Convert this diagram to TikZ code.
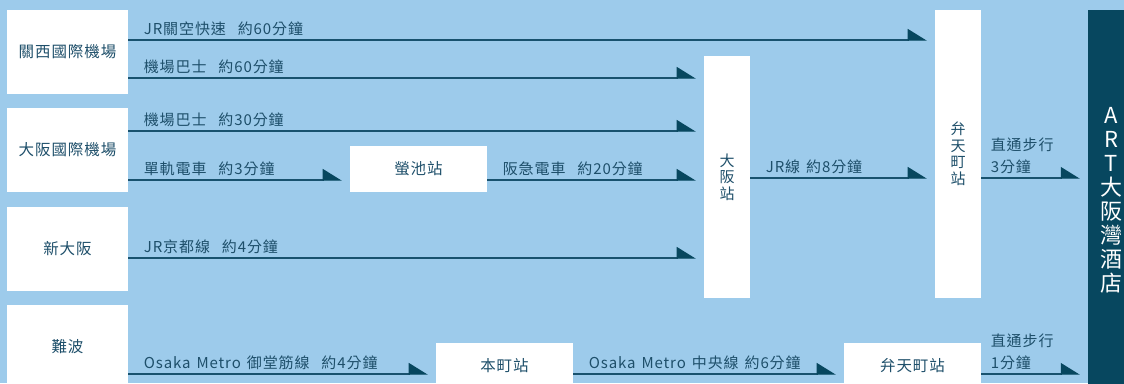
\documentclass[tikz,border=0pt]{standalone}
\usepackage{fontspec}
\setmainfont{Noto Sans CJK TC}[LetterSpace=6,WordSpace=1.4]
\usetikzlibrary{arrows.meta}
\definecolor{cielo}{HTML}{9DCBEB}
\definecolor{marino}{HTML}{07475F}
\definecolor{tinta}{HTML}{1E4F6A}
\definecolor{trazo}{HTML}{18526E}
\tikzstyle{origen}=[fill=white, text=tinta, minimum width=121pt, minimum height=84pt,
  inner sep=0pt, font=\fontsize{15.5}{17}\selectfont]
\tikzstyle{estacion}=[origen, minimum width=137pt, minimum height=46pt]
\tikzstyle{columna}=[origen, minimum width=46pt, align=center,
  font=\fontsize{15}{16.5}\selectfont]
\tikzstyle{hotel}=[fill=marino, text=white, minimum width=46pt, minimum height=380pt,
  align=center, inner sep=0pt, font=\fontsize{22}{24}\selectfont]
\tikzstyle{texto}=[pos=0, anchor=base west, inner sep=0pt, xshift=15pt, yshift=6pt,
  text=tinta, font=\fontsize{15}{17}\selectfont]
\tikzstyle{line}=[draw, line width=1.3pt, color=trazo, shorten >=8pt,
  -{Triangle[harpoon, length=18pt, width=22pt, color=marino]}]

\begin{document}
\begin{tikzpicture}[x=1pt, y=-1pt]
  \useasboundingbox (0,0) rectangle (1124,383);
  \clip (0,0) rectangle (1124,383);
  \fill [cielo] (0,0) rectangle (1124,383);

  % Draw diagram elements
  \path (67.5,52) node (kix) [origen] {關西國際機場};
  \path (67.5,150) node (itm) [origen] {大阪國際機場};
  \path (67.5,249) node (shin) [origen] {新大阪};
  \path (67.5,347) node (namba) [origen] {難波};

  \path (418.5,169) node (hotarugaike) [estacion] {螢池站};
  \path (504.5,366) node (honmachi) [estacion] {本町站};
  \path (912.5,366) node (bentenb) [estacion] {弁天町站};

  \path (727,177) node (osaka) [columna, minimum height=242pt] {大\\阪\\站};
  \path (958,154) node (bentenv) [columna, minimum height=288pt] {弁\\天\\町\\站};
  \path (1111,200) node (art) [hotel] {A\\R\\T\\大\\阪\\灣\\酒\\店};

  % Draw arrows between elements
  \path [line] (kix.east |- 0,40) -- node [texto] {JR關空快速~~約60分鐘} (bentenv.west |- 0,40);
  \path [line] (kix.east |- 0,78) -- node [texto] {機場巴士~~約60分鐘} (osaka.west |- 0,78);
  \path [line] (itm.east |- 0,131) -- node [texto] {機場巴士~~約30分鐘} (osaka.west |- 0,131);
  \path [line] (itm.east |- 0,180) -- node [texto] {單軌電車~~約3分鐘} (hotarugaike.west |- 0,180);
  \path [line] (hotarugaike.east |- 0,180) -- node [texto] {阪急電車~~約20分鐘} (osaka.west |- 0,180);
  \path [line] (shin.east |- 0,258) -- node [texto] {JR京都線~~約4分鐘} (osaka.west |- 0,258);

  \path [line] (osaka.east |- 0,178) -- node [texto] {JR線 約8分鐘} (bentenv.west |- 0,178);
  \path [line] (bentenv.east |- 0,178) -- node [texto, xshift=-6pt] {3分鐘}
    node [texto, xshift=-6pt, yshift=22pt] {直通步行} (art.west |- 0,178);

  \path [line] (namba.east |- 0,374) -- node [texto] {Osaka Metro 御堂筋線~~約4分鐘} (honmachi.west |- 0,374);
  \path [line] (honmachi.east |- 0,374) -- node [texto] {Osaka Metro 中央線 約6分鐘} (bentenb.west |- 0,374);
  \path [line] (bentenb.east |- 0,374) -- node [texto, xshift=-6pt] {1分鐘}
    node [texto, xshift=-6pt, yshift=22pt] {直通步行} (art.west |- 0,374);
\end{tikzpicture}
\end{document}
